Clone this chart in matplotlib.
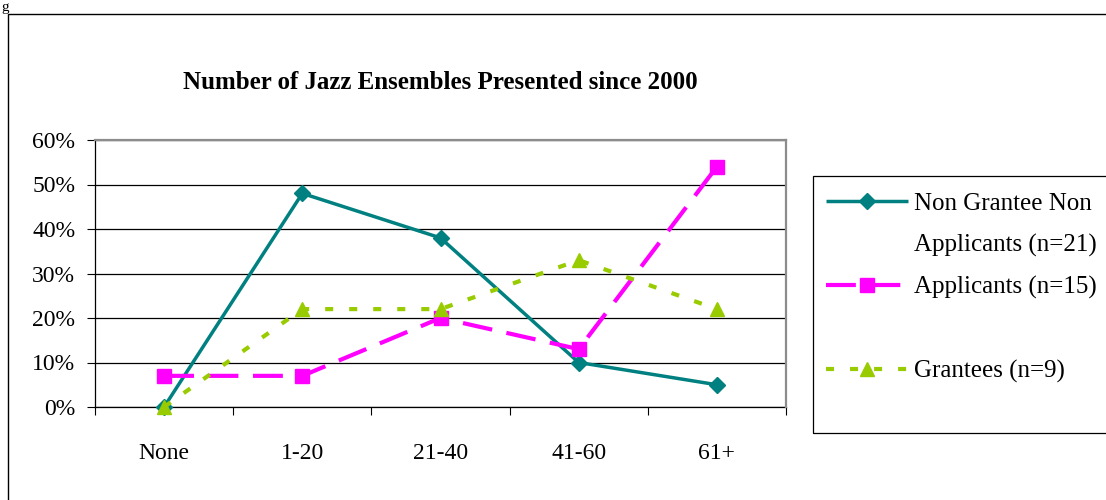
import matplotlib
matplotlib.use("Agg")
import matplotlib.pyplot as plt
from matplotlib.lines import Line2D
from matplotlib.patches import Rectangle
from matplotlib.ticker import FixedLocator, PercentFormatter

categories = ["None", "1-20", "21-40", "41-60", "61+"]
non_grantee = [0, 48, 38, 10, 5]
applicants = [7, 7, 20, 13, 54]
grantees = [0, 22, 22, 33, 22]
title = "Number of Jazz Ensembles Presented since 2000"
y_ticks = [0, 10, 20, 30, 40, 50, 60]

plt.rcParams['font.family'] = ['Liberation Serif', 'DejaVu Serif']
plt.rcParams['lines.scale_dashes'] = False

W, H = 1106, 500
fig = plt.figure(figsize=(W / 100, H / 100), dpi=100)
fig.patch.set_facecolor("white")

# outer chart border
fig.patches.append(Rectangle((8 / W, -0.05), 1.2, 1 - 14 / H + 0.05,
                             transform=fig.transFigure, fill=False,
                             edgecolor="black", linewidth=1.0, zorder=0))
# caption fragment at the top-left
fig.text(1 / W, 1 - 0.5 / H, "g", fontsize=11, va="top", ha="left")

ax = fig.add_axes([95 / W, 1 - 407 / H, (786 - 95) / W, (407 - 140) / H])
x = list(range(len(categories)))

l1, = ax.plot(x, non_grantee, color="#008080", lw=2.5, marker="D", ms=8.5,
              solid_capstyle="butt", zorder=3, clip_on=False)
l2, = ax.plot(x, applicants, color="#FF00FF", lw=3.0, marker="s", ms=10,
              dashes=(21.5, 10.5), zorder=4, clip_on=False)
l3, = ax.plot(x, grantees, color="#99CC00", lw=3.0, marker="^", ms=10.5,
              dashes=(5.8, 11.5), zorder=5, clip_on=False)

ax.set_xlim(-0.5, len(categories) - 0.5)
ax.set_ylim(0, 60)
ax.yaxis.set_major_locator(FixedLocator(y_ticks))
ax.yaxis.set_major_formatter(PercentFormatter(decimals=0))
ax.set_xticks(x)
ax.set_xticklabels(categories)
ax.set_xticks([i - 0.5 for i in range(len(categories) + 1)], minor=True)
ax.tick_params(axis="x", which="major", length=0, pad=26, labelsize=17)
ax.tick_params(axis="x", which="minor", length=6, width=0.8, direction="out")
ax.tick_params(axis="y", which="major", length=5.8, width=0.8, pad=8.5, labelsize=17)

ax.grid(axis="y", color="black", lw=0.9, zorder=1)
for s in ["top", "right"]:
    ax.spines[s].set_color("#8c8c8c")
    ax.spines[s].set_linewidth(1.6)
for s in ["left", "bottom"]:
    ax.spines[s].set_color("black")
    ax.spines[s].set_linewidth(0.9)
ax.spines["bottom"].set_zorder(2)

ax.set_title(title, fontsize=18, fontweight="bold", pad=37)

# legend frame (runs past the right edge of the picture)
fig.patches.append(Rectangle((813 / W, 1 - 433 / H), 0.5, (433 - 176) / H,
                             transform=fig.transFigure, fill=False,
                             edgecolor="black", linewidth=0.9, zorder=1))

blank = Line2D([], [], linestyle="none")
handles = [l1, blank, l2, blank, l3, blank]
labels = ["Non Grantee Non", "Applicants (n=21)", "Applicants (n=15)", " ",
          "Grantees (n=9)", " "]
leg = fig.legend(handles, labels, loc="upper left",
                 bbox_to_anchor=(809 / W, 1 - 176 / H),
                 bbox_transform=fig.transFigure,
                 fontsize=18, frameon=False, borderpad=0.66,
                 handlelength=3.28, handletextpad=0.28, labelspacing=0.76,
                 borderaxespad=0)

fig.savefig("out.png", dpi=100, facecolor="white")
